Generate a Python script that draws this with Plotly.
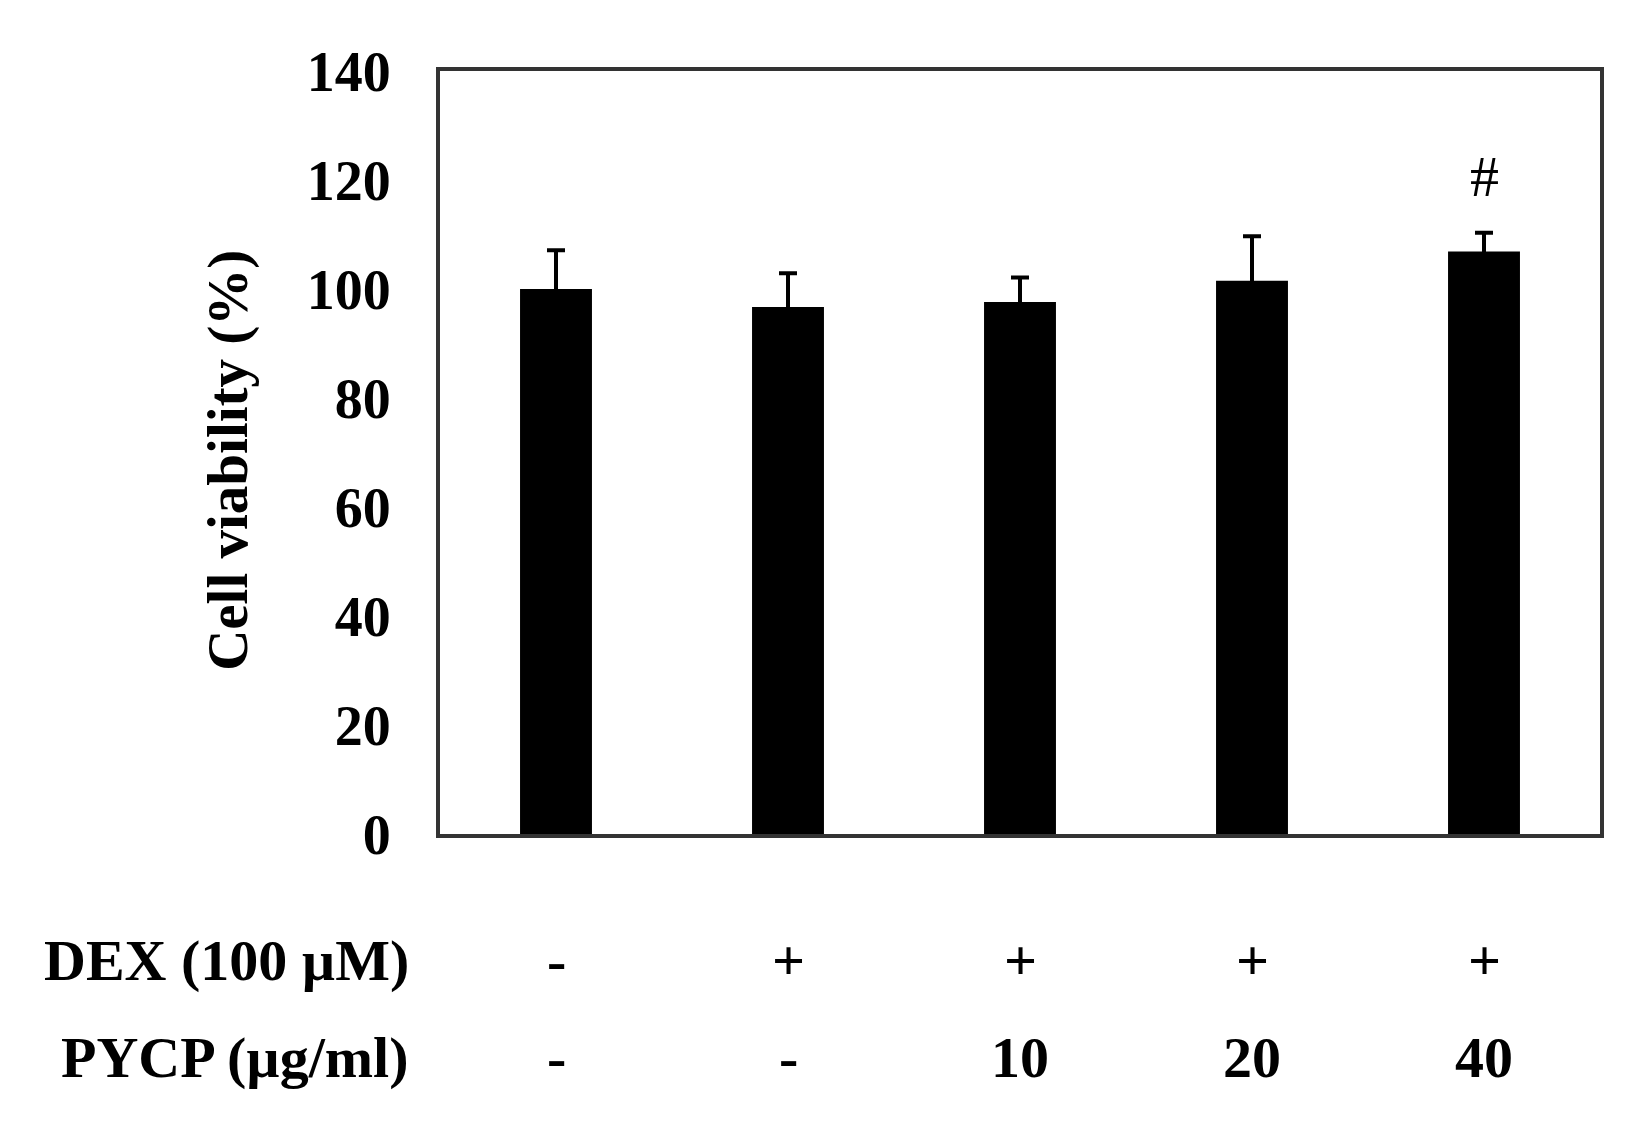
import plotly.graph_objects as go

groups = ["G1", "G2", "G3", "G4", "G5"]
viability = [100.0, 96.7, 97.6, 101.5, 106.9]
errors = [7.1, 6.2, 4.5, 8.2, 3.4]
dex_labels = ["-", "+", "+", "+", "+"]
pycp_labels = ["-", "-", "10", "20", "40"]
sig_marks = ["", "", "", "", "#"]
y_ticks = [0, 20, 40, 60, 80, 100, 120, 140]

FONT = "Liberation Serif, Times New Roman, serif"

fig = go.Figure()
fig.add_trace(go.Bar(
    x=groups, y=viability,
    marker=dict(color="black", line=dict(width=0)),
    width=0.31,
    error_y=dict(type="data", array=errors, visible=True, symmetric=True,
                 color="black", thickness=4, width=9),
    showlegend=False,
))

annotations = []
for g, d, p, s in zip(groups, dex_labels, pycp_labels, sig_marks):
    annotations.append(dict(x=g, y=-0.166, xref="x", yref="paper", text=f"<b>{d}</b>",
                            showarrow=False, xanchor="center", yanchor="middle",
                            font=dict(family=FONT, size=58, color="black")))
    annotations.append(dict(x=g, y=-0.293, xref="x", yref="paper", text=f"<b>{p}</b>",
                            showarrow=False, xanchor="center", yanchor="middle",
                            font=dict(family=FONT, size=58, color="black")))
    if s:
        annotations.append(dict(x=g, y=120.6, xref="x", yref="y", text=s,
                                showarrow=False, xanchor="center", yanchor="middle",
                                font=dict(family=FONT, size=58, color="black")))

annotations.append(dict(x=-0.025, y=-0.166, xref="paper", yref="paper", text="<b>DEX (100 µM)</b>",
                        showarrow=False, xanchor="right", yanchor="middle",
                        font=dict(family=FONT, size=58, color="black")))
annotations.append(dict(x=-0.025, y=-0.293, xref="paper", yref="paper", text="<b>PYCP (µg/ml)</b>",
                        showarrow=False, xanchor="right", yanchor="middle",
                        font=dict(family=FONT, size=58, color="black")))
annotations.append(dict(x=-0.183, y=0.49, xref="paper", yref="paper", text="<b>Cell viability (%)</b>",
                        showarrow=False, xanchor="center", yanchor="middle", textangle=-90,
                        font=dict(family=FONT, size=57, color="black")))

fig.update_layout(
    width=1642, height=1141,
    margin=dict(l=432, r=50, t=63, b=315),
    paper_bgcolor="white", plot_bgcolor="white",
    annotations=annotations,
    font=dict(family=FONT, color="black"),
)
fig.update_xaxes(showticklabels=False, ticks="", showgrid=False, zeroline=False,
                 showline=True, linecolor="#333", linewidth=4, mirror=True)
fig.update_yaxes(range=[0, 140], tickvals=y_ticks, ticktext=[f"<b>{t}</b>" for t in y_ticks],
                 tickfont=dict(family=FONT, size=56, color="black"),
                 ticks="", ticklabelstandoff=34, showgrid=False, zeroline=False,
                 showline=True, linecolor="#333", linewidth=4, mirror=True)

fig.write_html("out.html")
